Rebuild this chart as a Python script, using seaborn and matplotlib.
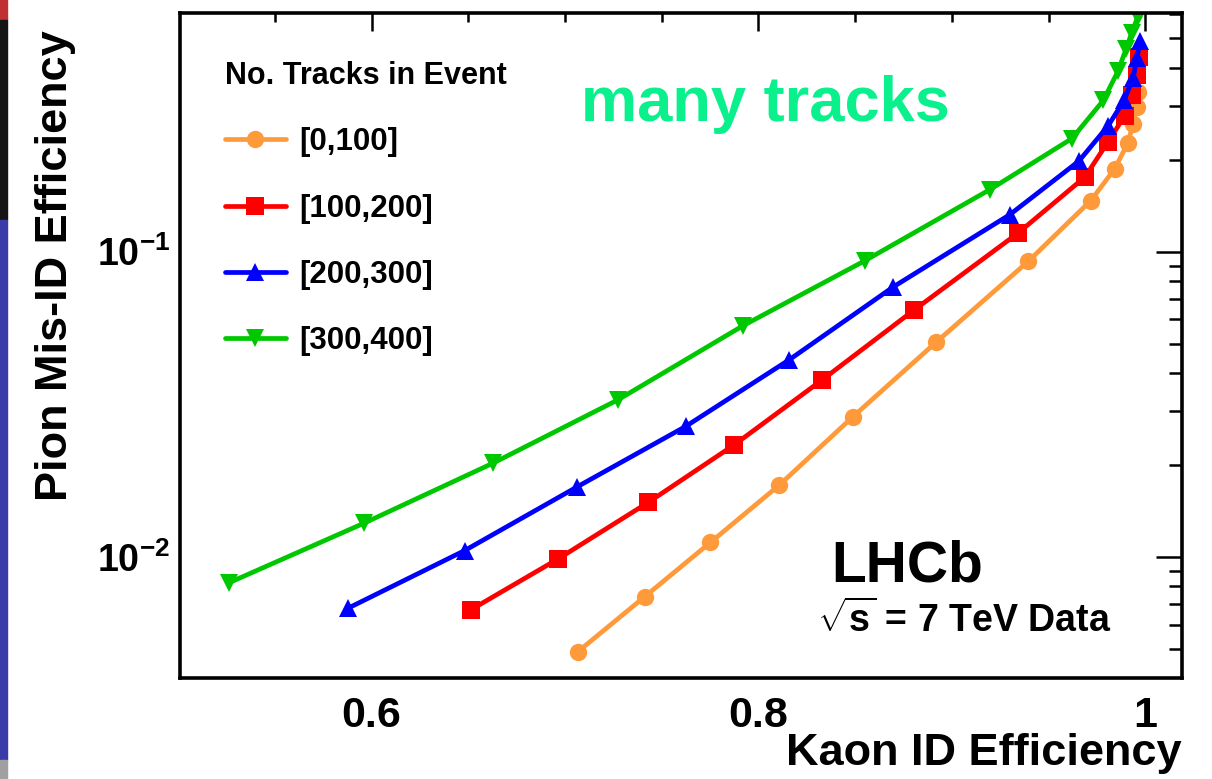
import numpy as np
import pandas as pd
import matplotlib
matplotlib.use("Agg")
import matplotlib.pyplot as plt
import seaborn as sns
from matplotlib.ticker import FixedLocator, FixedFormatter, MultipleLocator, LogLocator, NullFormatter
from matplotlib.patches import Rectangle

# ---------------- data ----------------
categories = ["[0,100]", "[100,200]", "[200,300]", "[300,400]"]

kaon_0_100 = [0.7067, 0.7413, 0.7752, 0.8108, 0.8487, 0.8918, 0.9395, 0.9719,
              0.9843, 0.9911, 0.9936, 0.9955, 0.9964]
misid_0_100 = [0.00489, 0.00741, 0.01115, 0.01718, 0.02871, 0.05043, 0.0929, 0.1470,
               0.1871, 0.2277, 0.2609, 0.2988, 0.3346]

kaon_100_200 = [0.6512, 0.6965, 0.7430, 0.7876, 0.8331, 0.8804, 0.9343, 0.9688,
                0.9807, 0.9895, 0.9931, 0.9955, 0.9967]
misid_100_200 = [0.00670, 0.00985, 0.01507, 0.02330, 0.03805, 0.0643, 0.1151, 0.1755,
                 0.2286, 0.2792, 0.3248, 0.3776, 0.4326]

kaon_200_300 = [0.5879, 0.6482, 0.7064, 0.7624, 0.8160, 0.8697, 0.9300, 0.9657,
                0.9809, 0.9890, 0.9938, 0.9957, 0.9975]
misid_200_300 = [0.00679, 0.01049, 0.01697, 0.02675, 0.04424, 0.0766, 0.1322, 0.1980,
                 0.2588, 0.3127, 0.3711, 0.4316, 0.4891]

kaon_300_400 = [0.5264, 0.5962, 0.6629, 0.7275, 0.7921, 0.8551, 0.9197, 0.9621,
                0.9783, 0.9859, 0.9900, 0.9930, 0.9961]
misid_300_400 = [0.00823, 0.01290, 0.02029, 0.03272, 0.05721, 0.0934, 0.1597, 0.2347,
                 0.3127, 0.3901, 0.4596, 0.5212, 0.5873]

xtick_values = [0.6, 0.8, 1.0]
xtick_labels = ["0.6", "0.8", "1"]

colors = ["#ff9a3a", "#ff0000", "#0000ff", "#00c800"]
marker_list = ["o", "s", "^", "v"]

# ---------------- build table ----------------
frames = []
for cat, xs, ys in zip(categories,
                       [kaon_0_100, kaon_100_200, kaon_200_300, kaon_300_400],
                       [misid_0_100, misid_100_200, misid_200_300, misid_300_400]):
    frames.append(pd.DataFrame({"kaon": xs, "pion": ys, "tracks": cat}))
df = pd.concat(frames, ignore_index=True)

# ---------------- style ----------------
sns.set_theme(style="white")
plt.rcParams["font.family"] = ["Liberation Sans", "DejaVu Sans"]
plt.rcParams["font.weight"] = "bold"
plt.rcParams["text.color"] = "black"
plt.rcParams["axes.labelcolor"] = "black"
plt.rcParams["xtick.color"] = "black"
plt.rcParams["ytick.color"] = "black"
plt.rcParams["mathtext.fontset"] = "custom"
plt.rcParams["mathtext.rm"] = "Liberation Sans:bold"
plt.rcParams["mathtext.bf"] = "Liberation Sans:bold"
plt.rcParams["mathtext.it"] = "Liberation Sans:bold"
plt.rcParams["mathtext.default"] = "rm"

W, H = 1212, 779
fig = plt.figure(figsize=(W / 100, H / 100), dpi=100)
fig.patch.set_facecolor("white")
ax = fig.add_axes([180 / W, 1 - 678 / H, (1182 - 180) / W, (678 - 13) / H])

palette = dict(zip(categories, colors))
markers = dict(zip(categories, marker_list))
sns.lineplot(data=df, x="kaon", y="pion", hue="tracks", style="tracks",
             palette=palette, markers=markers, dashes=False, sort=False,
             estimator=None, linewidth=3.4, markersize=12.5,
             markeredgewidth=0, ax=ax)

ax.set_yscale("log")
ax.set_xlim(0.501, 1.019)
ax.set_ylim(0.00401, 0.605)

# ticks
ax.xaxis.set_major_locator(FixedLocator(xtick_values))
ax.xaxis.set_major_formatter(FixedFormatter(xtick_labels))
ax.xaxis.set_minor_locator(MultipleLocator(0.05))
ax.yaxis.set_major_locator(LogLocator(base=10, numticks=10))
ax.yaxis.set_minor_locator(LogLocator(base=10, subs=np.arange(2, 10), numticks=20))
ax.yaxis.set_minor_formatter(NullFormatter())

ax.tick_params(which="both", direction="in", top=True, right=True,
               color="black", labelcolor="black", width=1.8)
ax.xaxis.set_tick_params(which="major", length=13, pad=13, labelsize=31)
ax.xaxis.set_tick_params(which="minor", length=6.5)
ax.yaxis.set_tick_params(which="major", length=19, pad=7, labelsize=27)
ax.yaxis.set_tick_params(which="minor", length=9.5)
for lab in ax.get_xticklabels() + ax.get_yticklabels():
    lab.set_fontweight("bold")

for sp in ax.spines.values():
    sp.set_linewidth(2.6)
    sp.set_color("black")

ax.set_xlabel("Kaon ID Efficiency", fontsize=32.5, fontweight="bold", loc="right", color="black")
ax.xaxis.set_label_coords(1.0, -0.083)
ax.set_ylabel("Pion Mis-ID Efficiency", fontsize=32.5, fontweight="bold", loc="top", color="black")
ax.yaxis.set_label_coords(-0.104, 0.974)
ax.grid(False)

# legend
handles, labels = ax.get_legend_handles_labels()
old = ax.get_legend()
if old is not None:
    old.remove()
leg = ax.legend(handles, labels, title="No. Tracks in Event", frameon=False,
                loc="upper left", bbox_to_anchor=(225 / W, 1 - 61 / H),
                bbox_transform=fig.transFigure, borderpad=0, borderaxespad=0,
                fontsize=22.5, title_fontsize=22, labelspacing=1.16,
                handlelength=1.95, handletextpad=0.42, alignment="left",
                labelcolor="black")
leg.get_title().set_fontweight("bold")
leg.get_title().set_color("black")
for t in leg.get_texts():
    t.set_fontweight("bold")

# annotations
fig.text(831 / W, 1 - 582 / H, "LHCb", fontsize=41, fontweight="bold",
         color="black", ha="left", va="baseline")
fig.text(817 / W, 1 - 632 / H, r"$\sqrt{s}$ = 7 TeV Data", fontsize=27,
         fontweight="bold", color="black", ha="left", va="baseline")
fig.text(581 / W, 1 - 121 / H, "many tracks", fontsize=45.5, fontweight="bold",
         color="#0af08c", ha="left", va="baseline")

# screenshot edge strip on the left
strip = [(0, 20, "#c03030"), (20, 220, "#151515"), (220, 760, "#3a3aa8"), (760, 779, "#a0a0a0")]
for y0, y1, c in strip:
    fig.patches.append(Rectangle((0, 1 - y1 / H), 7 / W, (y1 - y0) / H,
                                 transform=fig.transFigure, color=c, zorder=0))

fig.savefig("out.png", dpi=100)
